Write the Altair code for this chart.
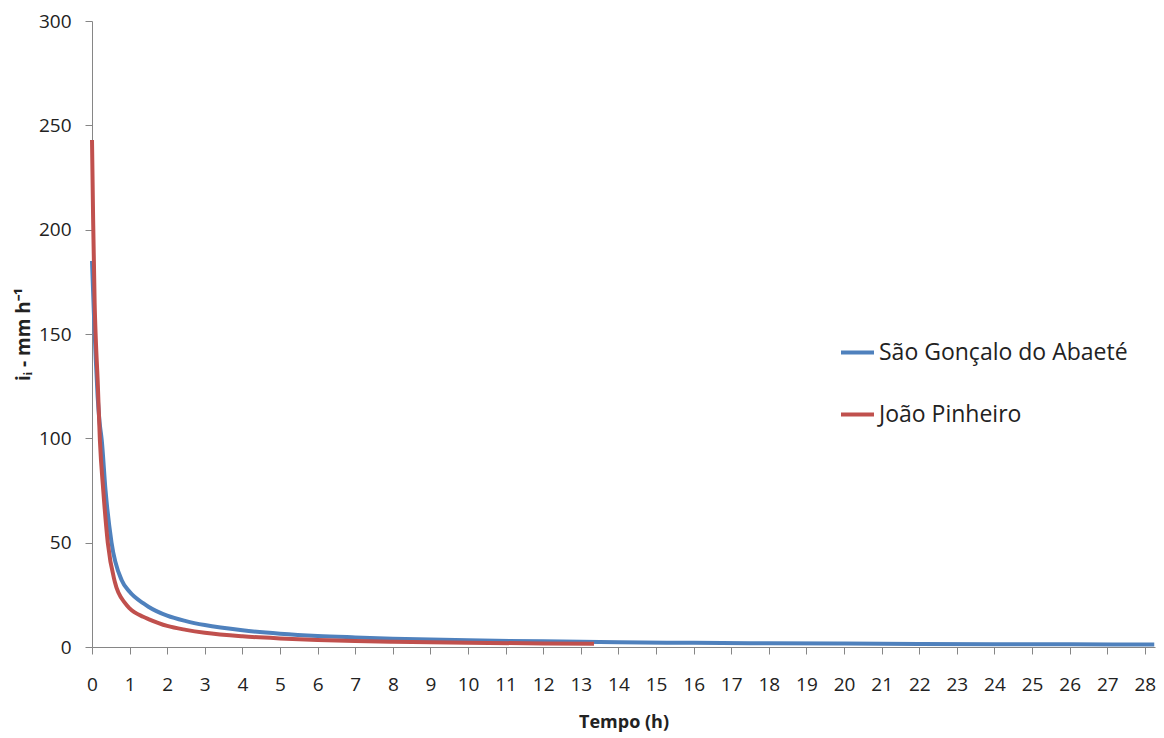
import altair as alt
import pandas as pd

# Intensity (mm/h) versus duration (h) for the two stations
series_names = ["São Gonçalo do Abaeté", "João Pinheiro"]

t_sao_goncalo = [0, 0.05, 0.1, 0.15, 0.2, 0.26, 0.36, 0.52, 0.79, 1, 1.36, 1.5, 2, 2.5, 3,
                 4, 5, 6, 7, 8, 10, 12, 14, 16, 18, 20, 22, 24, 26, 28.25]
i_sao_goncalo = [185, 160, 138, 120, 108, 99, 75, 50, 32, 26.5, 21, 19.3, 15, 12.4, 10.5,
                 8, 6.4, 5.3, 4.6, 4.0, 3.2, 2.7, 2.3, 2.0, 1.8, 1.62, 1.48, 1.36, 1.26, 1.17]

t_joao_pinheiro = [0, 0.03, 0.07, 0.1, 0.15, 0.21, 0.3, 0.42, 0.61, 0.88, 1, 1.36, 1.5, 2, 2.5,
                   3, 4, 5, 6, 7, 8, 10, 12, 13.35]
i_joao_pinheiro = [243, 205, 165, 148, 128, 99, 75, 50, 31, 21, 18.5, 14.5, 13.4, 10.1, 8.2,
                   6.8, 5.1, 4.1, 3.4, 2.9, 2.55, 2.05, 1.7, 1.55]

x_ticks = list(range(0, 29))
y_ticks = [0, 50, 100, 150, 200, 250, 300]

rows = []
for name, ts, vals in [(series_names[0], t_sao_goncalo, i_sao_goncalo),
                       (series_names[1], t_joao_pinheiro, i_joao_pinheiro)]:
    for t, v in zip(ts, vals):
        rows.append({"Tempo": t, "Intensidade": v, "Estação": name})
df = pd.DataFrame(rows)

FONT = "Open Sans"
AXIS_GRAY = "#868686"
TEXT = "#222222"

chart = (
    alt.Chart(df)
    .mark_line(strokeWidth=4, interpolate="monotone")
    .encode(
        x=alt.X(
            "Tempo:Q",
            scale=alt.Scale(domain=[0, 28.27], nice=False, zero=False),
            axis=alt.Axis(
                title="Tempo (h)",
                values=x_ticks,
                format="d",
                grid=False,
                domainColor=AXIS_GRAY,
                tickColor=AXIS_GRAY,
                tickSize=7,
                labelFont=FONT,
                labelFontSize=19,
                labelColor=TEXT,
                labelPadding=21,
                labelFlush=False,
                labelOverlap=False,
                titleFont=FONT,
                titleFontSize=18,
                titleFontWeight="bold",
                titleColor=TEXT,
                titlePadding=19,
            ),
        ),
        y=alt.Y(
            "Intensidade:Q",
            scale=alt.Scale(domain=[0, 300], nice=False),
            axis=alt.Axis(
                title="iᵢ - mm h⁻¹",
                values=y_ticks,
                grid=False,
                domainColor=AXIS_GRAY,
                tickColor=AXIS_GRAY,
                tickSize=7,
                labelFont=FONT,
                labelFontSize=19,
                labelColor=TEXT,
                labelPadding=14,
                labelFlush=False,
                titleFont=FONT,
                titleFontSize=19,
                titleFontWeight="bold",
                titleColor=TEXT,
                titlePadding=5,
            ),
        ),
        color=alt.Color(
            "Estação:N",
            scale=alt.Scale(domain=series_names, range=["#4F81BD", "#C0504D"]),
            sort=series_names,
            legend=alt.Legend(
                title=None,
                orient="none",
                legendX=747,
                legendY=313,
                symbolType="stroke",
                symbolStrokeWidth=4,
                symbolSize=1089,
                labelFont=FONT,
                labelFontSize=23,
                labelColor=TEXT,
                labelOffset=3,
                labelLimit=400,
                rowPadding=31,
                padding=0,
            ),
        ),
    )
    .properties(
        width=1063,
        height=626,
        autosize=alt.AutoSizeParams(type="none"),
        padding={"left": 92, "top": 21, "right": 9, "bottom": 91},
        background="white",
    )
    .configure_view(stroke=None)
)

chart.save("out.html", embed_options={"renderer": "svg", "actions": False})
